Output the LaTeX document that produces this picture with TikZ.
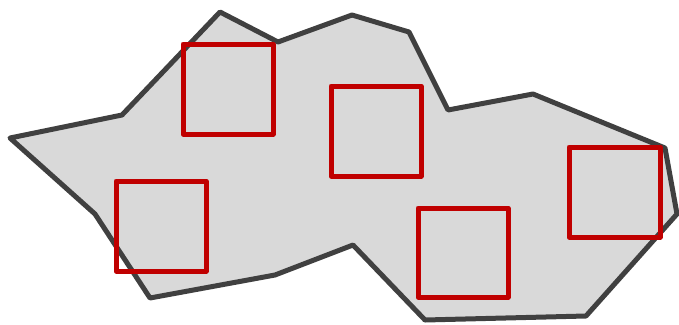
\documentclass[tikz,border=0pt]{standalone}
\usepackage{tikz}
\definecolor{regiongray}{HTML}{D9D9D9}
\definecolor{edgegray}{HTML}{404040}
\definecolor{boxred}{HTML}{C00000}

\begin{document}
\begin{tikzpicture}[x=1pt, y=-1pt,
		region/.style={fill=regiongray, draw=edgegray, line width=5pt, line join=round},
		window/.style={draw=boxred, line width=5pt, line join=round}]
		\useasboundingbox (0,0) rectangle (679,324);
		\draw[region] (10,138) -- (122,115) -- (220,12) -- (278,42) -- (352,15) -- (409,32)
			-- (448,110) -- (533,94) -- (665,148) -- (677,214) -- (586,316) -- (425,320)
			-- (353,245) -- (275,275) -- (150,298) -- (95,214) -- cycle;
		\draw[window] (183,44) rectangle (273,134);
		\draw[window] (331,86) rectangle (421,176);
		\draw[window] (116,181) rectangle (206,271);
		\draw[window] (418,208) rectangle (508,297);
		\draw[window] (569,147) rectangle (660,237);
	\end{tikzpicture}
\end{document}
